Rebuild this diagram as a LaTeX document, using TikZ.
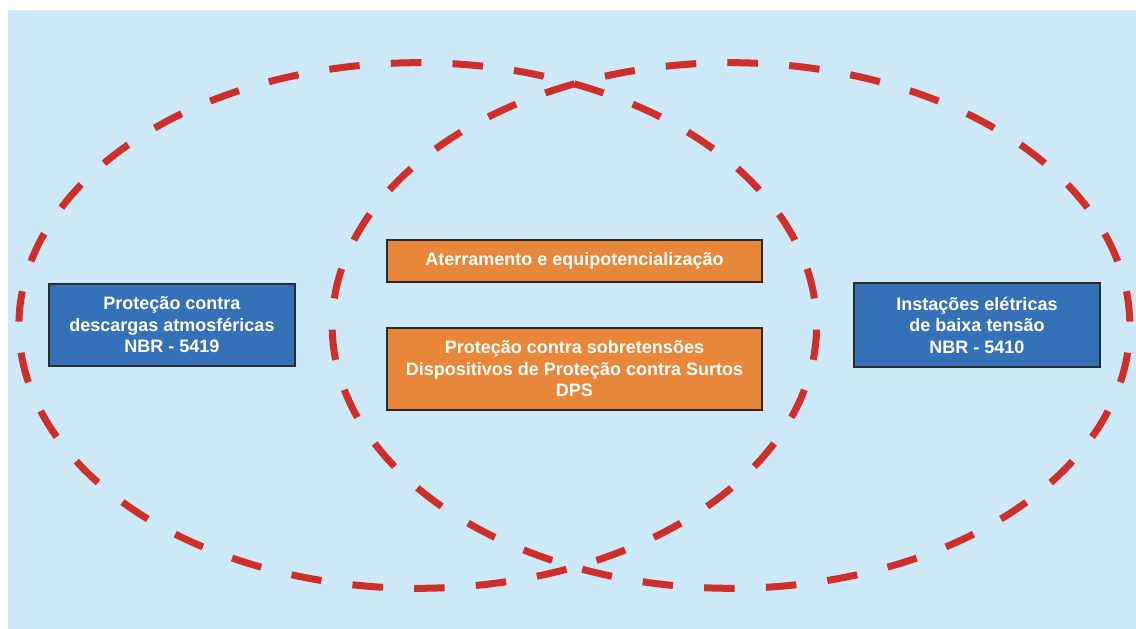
\documentclass[tikz,border=0pt]{standalone}
\usepackage{fontspec}
\setmainfont{Liberation Sans}
\definecolor{bg}{HTML}{CDE8F6}
\definecolor{boxblue}{HTML}{3571B8}
\definecolor{boxorange}{HTML}{E8873A}
\definecolor{boxline}{HTML}{2B2B2B}
\definecolor{ringred}{HTML}{CE2F2B}
\begin{document}
\begin{tikzpicture}[x=1pt,y=-1pt,
  box/.style={draw=boxline, line width=1.3pt, text=white,
    font=\bfseries\fontsize{18}{21.5}\selectfont, align=center, inner sep=0pt},
  bluebox/.style={box, fill=boxblue, minimum width=246pt, minimum height=82pt},
  orangebox/.style={box, fill=boxorange, minimum width=375pt},
  ring/.style={draw=ringred, line width=7pt, dash pattern=on 30.5pt off 31.27pt}]
\useasboundingbox (0,0) rectangle (1136,629);
\fill[bg] (8,10) rectangle (1136,629);
% ellipse centres; each dashed ring starts at the upper crossing
\coordinate (lc) at (417.75,325.5);
\coordinate (rc) at (731,325.5);
\draw[ring] ([shift={(-66.87:398.75 and 262.75)}]lc)
  arc[start angle=-66.87, end angle=293.13, x radius=398.75, y radius=262.75];
\draw[ring] ([shift={(246.87:398.75 and 262.75)}]rc)
  arc[start angle=246.87, end angle=-113.13, x radius=398.75, y radius=262.75];
\node[bluebox] (lp) at (172,325) {Proteção contra\\descargas atmosféricas\\NBR - 5419};
\node[bluebox, minimum height=84pt] (bt) at (977,325) {Instações elétricas\\de baixa tensão\\NBR - 5410};
\node[orangebox, minimum height=42pt] (at) at (574.5,261) {Aterramento e equipotencialização};
\node[orangebox, minimum height=82pt] (dps) at (574.5,369) {Proteção contra sobretensões\\Dispositivos de Proteção contra Surtos\\DPS};
\end{tikzpicture}
\end{document}
